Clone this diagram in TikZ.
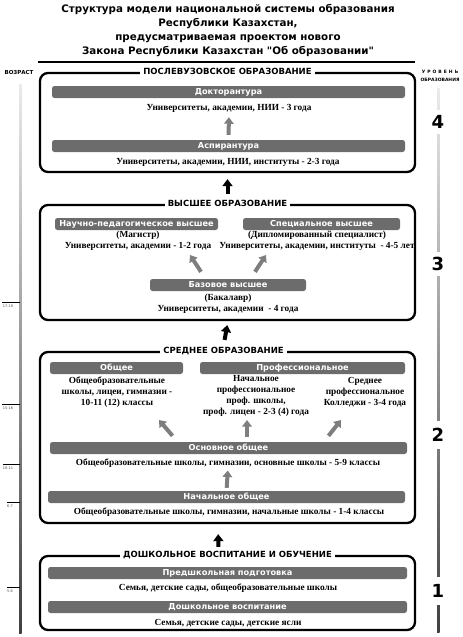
\documentclass[tikz,border=0pt]{standalone}
\usepackage{fontspec}
\setmainfont{Liberation Serif}
\newfontfamily\hdr{DejaVu Sans}
\usetikzlibrary{arrows.meta}
\definecolor{bargray}{HTML}{6C6C6C}
\definecolor{arrgray}{HTML}{7E7E7E}
\begin{document}
\begin{tikzpicture}[x=1pt,y=-1pt,
  bar/.style={fill=bargray, rounded corners=2.5pt, minimum height=12pt, inner sep=0pt, text=white, font=\hdr\bfseries\fontsize{8.2}{8}\selectfont},
  txt/.style={font=\bfseries\fontsize{9.3}{11}\selectfont, inner sep=0pt, align=center},
  frame/.style={draw, line width=2.3pt, rounded corners=8pt, minimum width=375pt, inner sep=0pt},
  ftitle/.style={fill=white, inner xsep=3pt, inner ysep=1pt, font=\hdr\bfseries\fontsize{8.5}{10}\selectfont},
  garrow/.style={draw=arrgray, line width=4pt, -{Triangle[width=9.5pt,length=6.5pt]}},
  barrow/.style={draw=black, line width=4pt, -{Triangle[width=10pt,length=7pt]}},
  level/.style={fill=white, inner xsep=1pt, inner ysep=5pt, font=\hdr\bfseries\fontsize{18}{18}\selectfont},
  age/.style={inner sep=0pt, text=black!70, font=\hdr\fontsize{3.5}{4}\selectfont},
]
\useasboundingbox (0,0) rectangle (463,637);

% title
\node[align=center, inner sep=0pt, font=\hdr\bfseries\fontsize{10.3}{14}\selectfont] (title) at (228,31)
  {Структура модели национальной системы образования\\Республики Казахстан,\\предусматриваемая проектом нового\\Закона Республики Казахстан "Об образовании"};
\draw[line width=2pt] (38,62) -- (415,62);

% side axes
\shade[top color=black!8, bottom color=black!75] (19,84) rectangle (21.5,633);
\shade[top color=black!8, bottom color=black!75] (437,88) rectangle (439.5,632);
\node[inner sep=0pt, font=\hdr\bfseries\fontsize{5.5}{6}\selectfont] (vozr) at (19,72) {ВОЗРАСТ};
\node[inner sep=0pt, font=\hdr\bfseries\fontsize{4.5}{5}\selectfont\addfontfeature{LetterSpace=45}] (ur1) at (440,72) {УРОВЕНЬ};
\node[inner sep=0pt, font=\hdr\bfseries\fontsize{4.5}{5}\selectfont] (ur2) at (440,80) {ОБРАЗОВАНИЯ};
\node[level] (l4) at (438,122) {4};
\node[level] (l3) at (438,264) {3};
\node[level, inner ysep=7pt] (l2) at (438,435) {2};
\node[level, inner ysep=7pt] (l1) at (438,591) {1};

\draw[line width=0.9pt] (2,302) -- (20,302);
\node[age] (a1) at (8,306) {17-18};
\draw[line width=0.9pt] (2,404) -- (20,404);
\node[age] (a2) at (8,408) {15-16};
\draw[line width=0.9pt] (3,464) -- (20,464);
\node[age] (a3) at (8,468) {10-11};
\draw[line width=0.9pt] (7,502) -- (20,502);
\node[age] (a4) at (10,506) {6-7};
\draw[line width=0.9pt] (7,587) -- (20,587);
\node[age] (a5) at (10,591) {5-6};

% frames
\node[frame, minimum height=99pt] (b1) at (227.5,122.5) {};
\node[frame, minimum height=115pt] (b2) at (227.5,262.5) {};
\node[frame, minimum height=171pt] (b3) at (227.5,437.5) {};
\node[frame, minimum height=74pt] (b4) at (227.5,593) {};
\node[ftitle] (b1t) at (b1.north) {ПОСЛЕВУЗОВСКОЕ ОБРАЗОВАНИЕ};
\node[ftitle] (b2t) at (b2.north) {ВЫСШЕЕ ОБРАЗОВАНИЕ};
\node[ftitle] (b3t) at ([xshift=-4pt]b3.north) {СРЕДНЕЕ ОБРАЗОВАНИЕ};
\node[ftitle] (b4t) at (b4.north) {ДОШКОЛЬНОЕ ВОСПИТАНИЕ И ОБУЧЕНИЕ};

% box 1
\node[bar, minimum width=353pt] (dok) at (228.5,92) {Докторантура};
\node[txt] (t1) at (229,108) {Университеты, академии, НИИ - 3 года};
\node[bar, minimum width=353pt] (asp) at (228.5,146) {Аспирантура};
\node[txt] (t2) at (228,162) {Университеты, академии, НИИ, институты - 2-3 года};
\draw[garrow, shorten <=5pt, shorten >=5pt] (asp.north) -- (t1.south);

% box 2
\node[bar, minimum width=163pt] (nauch) at (136.5,224) {Научно-педагогическое высшее};
\node[bar, minimum width=157pt] (spec) at (321.5,224) {Специальное высшее};
\node[txt] (t3) at (138,240.5) {(Магистр)\\Университеты, академии - 1-2 года};
\node[txt] (t4) at (317,240.5) {(Дипломированный специалист)\\Университеты, академии, институты\ \ - 4-5 лет};
\node[bar, minimum width=156pt] (baz) at (228,285) {Базовое высшее};
\node[txt] (t5) at (228,304) {(Бакалавр)\\Университеты, академии\ \ - 4 года};
\coordinate (h1) at (190,255);
\coordinate (h2) at (266,255);
\draw[garrow] ([xshift=-27pt,yshift=7pt]baz.north) -- (h1);
\draw[garrow] ([xshift=27pt,yshift=7pt]baz.north) -- (h2);

% box 3
\node[bar, minimum width=133pt] (obsh) at (116.5,368) {Общее};
\node[bar, minimum width=205pt] (prof) at (302.5,368) {Профессиональное};
\node[txt] (t6) at (117,392) {Общеобразовательные\\школы, лицеи, гимназии -\\10-11 (12) классы};
\node[txt] (t7) at (256,395.5) {Начальное\\профессиональное\\проф. школы,\\проф. лицеи - 2-3 (4) года};
\node[txt] (t8) at (365,392) {Среднее\\профессиональное\\Колледжи - 3-4 года};
\node[bar, minimum width=357pt] (osn) at (228.5,448) {Основное общее};
\node[txt] (t9) at (228,463) {Общеобразовательные школы, гимназии, основные школы - 5-9 классы};
\node[bar, minimum width=357pt] (nach) at (226.5,497) {Начальное общее};
\node[txt] (t10) at (229,512) {Общеобразовательные школы, гимназии, начальные школы - 1-4 классы};
\coordinate (h3) at (159,420);
\coordinate (h4) at (247,420);
\coordinate (h5) at (341,420);
\draw[garrow] ([xshift=-56pt,yshift=6pt]osn.north) -- (h3);
\draw[garrow] ([xshift=18.5pt,yshift=5pt]osn.north) -- (h4);
\draw[garrow] ([xshift=100pt,yshift=6pt]osn.north) -- (h5);
\draw[garrow, shorten <=3pt, shorten >=3pt] (nach.north) -- (t9.south);

% box 4
\node[bar, minimum width=359pt] (pred) at (227.5,573) {Предшкольная подготовка};
\node[txt] (t11) at (228,588) {Семья, детские сады, общеобразовательные школы};
\node[bar, minimum width=359pt] (dosh) at (227.5,607) {Дошкольное воспитание};
\node[txt] (t12) at (228,623) {Семья, детские сады, детские ясли};

% connectors between levels
\draw[barrow, shorten <=5pt, shorten >=6pt] (b2t.north) -- (b1.south);
\draw[barrow, shorten <=6pt, shorten >=4pt] (b3t.north) -- ([xshift=0.5pt]b2.south);
\draw[barrow, shorten <=3pt, shorten >=10pt] ([xshift=-9pt]b4t.north) -- ([xshift=-9.5pt]b3.south);
\end{tikzpicture}
\end{document}
